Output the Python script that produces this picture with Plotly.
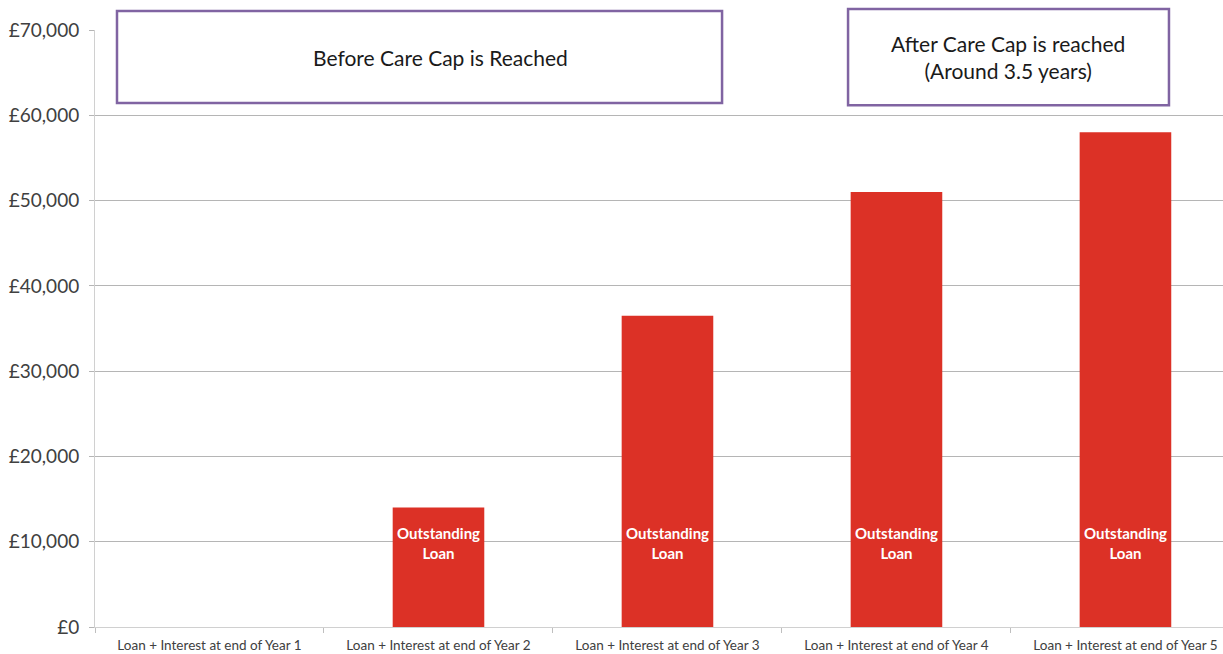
import plotly.graph_objects as go

categories = [
    "Loan + Interest at end of Year 1",
    "Loan + Interest at end of Year 2",
    "Loan + Interest at end of Year 3",
    "Loan + Interest at end of Year 4",
    "Loan + Interest at end of Year 5",
]
outstanding_loan = [0, 14000, 36500, 51000, 58000]
bar_label = "Outstanding<br>Loan"
tick_values = [0, 10000, 20000, 30000, 40000, 50000, 60000, 70000]
tick_labels = ["£0", "£10,000", "£20,000", "£30,000", "£40,000", "£50,000", "£60,000", "£70,000"]
box_texts = ["Before Care Cap is Reached", "After Care Cap is reached<br>(Around 3.5 years)"]

FONT = "Lato, 'Open Sans', sans-serif"
BAR_COLOR = "#DC3126"
PURPLE = "#8064A2"

fig = go.Figure()
fig.add_trace(go.Bar(
    x=categories, y=outstanding_loan,
    marker=dict(color=BAR_COLOR, line=dict(width=0)),
    width=0.4, showlegend=False, hoverinfo="x+y",
))

annotations = []
for c, v in zip(categories, outstanding_loan):
    if v > 0:
        annotations.append(dict(
            x=c, y=9850, xref="x", yref="y", text=bar_label, showarrow=False,
            font=dict(family=FONT, size=15, color="white", weight="bold"),
            align="center",
        ))

shapes = []
boxes = [
    (0.0195, 0.5559, 0.8777, 1.0318),
    (0.6676, 0.9521, 0.874, 1.035),
]
text_x = [0.3062, 0.8098]
for (x0, x1, y0, y1), t, tx in zip(boxes, box_texts, text_x):
    shapes.append(dict(type="rect", xref="paper", yref="paper",
                       x0=x0, x1=x1, y0=y0, y1=y1,
                       line=dict(color=PURPLE, width=2.5), fillcolor="white", layer="above"))
    annotations.append(dict(x=tx, y=(y0 + y1) / 2, xref="paper", yref="paper",
                            text=t, showarrow=False, align="center",
                            font=dict(family=FONT, size=21, color="#1a1a1a"),
                            xanchor="center", yanchor="middle"))

fig.update_layout(
    width=1223, height=654,
    margin=dict(l=95, r=0, t=30, b=27, autoexpand=False),
    paper_bgcolor="white", plot_bgcolor="white",
    font=dict(family=FONT, color="#404040"),
    shapes=shapes,
    annotations=annotations,
    xaxis=dict(
        type="category", range=[-0.5, 4.426], automargin=False,
        showgrid=False, showline=True, linecolor="#d0d0d0", linewidth=1,
        ticks="outside", tickson="boundaries", ticklen=5, tickcolor="#bfbfbf",
        tickfont=dict(family=FONT, size=13.5, color="#404040"),
        ticklabelstandoff=6,
        zeroline=False,
    ),
    yaxis=dict(
        range=[0, 70000], tickvals=tick_values, ticktext=tick_labels, automargin=False,
        showgrid=True, gridcolor="#b5b5b5", gridwidth=1,
        showline=True, linecolor="#d0d0d0", linewidth=1,
        ticks="outside", ticklen=5, tickcolor="#b5b5b5",
        tickfont=dict(family=FONT, size=19, color="#404040"),
        ticklabelstandoff=6,
        zeroline=False,
    ),
)

fig.write_html(
    "out.html",
    config={"displayModeBar": False},
    post_script="document.body.style.margin='0';document.body.style.overflow='hidden';",
)
